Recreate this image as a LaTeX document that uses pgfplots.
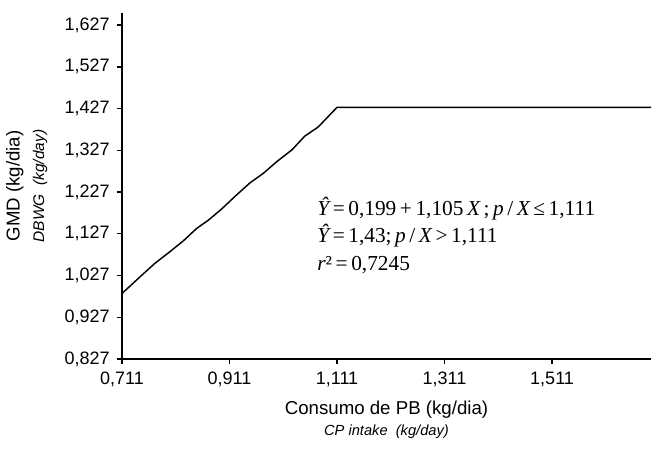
\documentclass[border=0pt]{standalone}
\usepackage{pgfplots}
\pgfplotsset{compat=1.18}
\usepackage{fontspec}
\setmainfont{Liberation Sans}
\newfontfamily\serif{Liberation Serif}
\begin{document}
\begin{tikzpicture}
\begin{axis}[
  scale only axis,
  width=396.75pt, height=259.5pt,
  xmin=0.711, xmax=1.695,
  ymin=0.827, ymax=1.656,
  axis lines*=left,
  axis line style={line width=1pt},
  tick align=outside,
  major tick length=3.75pt,
  tick style={line width=1pt, black},
  xtick={0.711,0.911,1.111,1.311,1.511},
  ytick={0.827,0.927,1.027,1.127,1.227,1.327,1.427,1.527,1.627},
  minor tick num=0,
  /pgf/number format/.cd, fixed, fixed zerofill, precision=3, use comma, assume math mode=true,
  /pgfplots/.cd,
  tick label style={font=\fontsize{13.5}{15}\selectfont},
  xticklabel style={yshift=-2.5pt},
  yticklabel style={xshift=-2pt},
  xlabel={Consumo de PB (kg/dia)\\[0pt]{\fontsize{11}{13}\selectfont\itshape CP intake\ \ (kg/day)}},
  xlabel style={align=center, font=\fontsize{14}{16}\selectfont, yshift=-3.5pt},
  ylabel={GMD (kg/dia)\\[2.5pt]{\fontsize{11.6}{13}\selectfont\itshape DBWG\ \ (kg/day)}},
  ylabel style={align=center, font=\fontsize{14}{16}\selectfont, yshift=6pt},
  clip=false,
]
\addplot[black, line width=1.1pt] coordinates {
(0.711,0.984) (0.748,1.028) (0.772,1.056) (0.800,1.084) (0.825,1.110)
(0.850,1.140) (0.872,1.160) (0.896,1.186) (0.924,1.220) (0.949,1.249)
(0.974,1.272) (0.999,1.300) (1.027,1.328) (1.051,1.361) (1.076,1.383)
(1.111,1.430) (1.695,1.430)
};
\node[anchor=base west, inner sep=0pt, font=\serif\fontsize{16}{18}\selectfont] at (axis cs:1.074,1.172) {{\itshape Ŷ}\,=\,0,199\,+\,1,105\,{\itshape X}\,;\,{\itshape p}\,/\,{\itshape X}\,≤\,1,111};
\node[anchor=base west, inner sep=0pt, font=\serif\fontsize{16}{18}\selectfont] at (axis cs:1.074,1.105) {{\itshape Ŷ}\,=\,1,43;\,{\itshape p}\,/\,{\itshape X}\,>\,1,111};
\node[anchor=base west, inner sep=0pt, font=\serif\fontsize{16}{18}\selectfont] at (axis cs:1.074,1.040) {{\itshape r}²\,=\,0,7245};
\end{axis}
\pgfresetboundingbox
\path ([xshift=-91.5pt, yshift=-70.5pt]current axis.south west) rectangle ([xshift=0.75pt, yshift=9.75pt]current axis.north east);
\end{tikzpicture}
\end{document}
